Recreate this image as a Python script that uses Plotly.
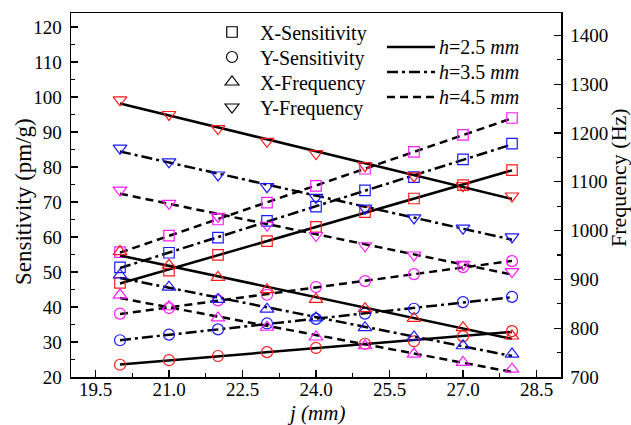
import numpy as np
import plotly.graph_objects as go

# ---------------- data ----------------
j_mm = [20, 21, 22, 23, 24, 25, 26, 27, 28]

x_sens_h25 = [46.9, 50.4, 54.9, 58.8, 62.9, 67.1, 71.0, 74.8, 79.1]
x_sens_h35 = [51.3, 55.5, 59.8, 64.6, 68.7, 73.3, 77.1, 82.2, 86.7]
x_sens_h45 = [55.7, 60.4, 65.0, 69.8, 74.6, 79.5, 84.3, 89.2, 94.0]

y_sens_h25 = [23.5, 24.8, 26.0, 27.1, 28.3, 29.5, 30.2, 31.6, 33.1]
y_sens_h35 = [30.5, 32.1, 33.6, 35.3, 36.6, 38.1, 39.5, 41.4, 42.9]
y_sens_h45 = [38.1, 39.7, 41.9, 43.5, 45.7, 47.4, 49.4, 51.4, 53.1]

x_freq_h25 = [957, 929, 904, 879, 859, 840, 820, 801, 784]
x_freq_h35 = [909, 884, 859, 839, 821, 801, 782, 764, 747]
x_freq_h45 = [868, 844, 821, 802, 782, 764, 747, 730, 716]

y_freq_h25 = [1268, 1238, 1209, 1183, 1158, 1133, 1112, 1092, 1071]
y_freq_h35 = [1169, 1141, 1114, 1090, 1068, 1046, 1026, 1005, 987]
y_freq_h45 = [1083, 1056, 1029, 1011, 990, 969, 950, 931, 916]

h_labels = ["2.5", "3.5", "4.5"]
series_names = ["X-Sensitivity", "Y-Sensitivity", "X-Frequency", "Y-Frequency"]

# ---------------- styles ----------------
FONT = "Liberation Serif"
colors = ["#ff1a1a", "#1a1aff", "#ff1aff"]
dashes = ["solid", "11px,4px,3px,4px", "8px,5px"]
symbols = ["square-open", "circle-open", "triangle-up-open", "triangle-down-open"]
msize = [10.5, 11, 12, 12]

groups = [
    ([x_sens_h25, x_sens_h35, x_sens_h45], "y"),
    ([y_sens_h25, y_sens_h35, y_sens_h45], "y"),
    ([x_freq_h25, x_freq_h35, x_freq_h45], "y2"),
    ([y_freq_h25, y_freq_h35, y_freq_h45], "y2"),
]

fig = go.Figure()
xa = np.array(j_mm, dtype=float)

# fitted lines first (beneath markers)
for gi, (sets, yax) in enumerate(groups):
    for hi, vals in enumerate(sets):
        k, b = np.polyfit(xa, np.array(vals, dtype=float), 1)
        xs = [xa.min(), xa.max()]
        fig.add_trace(go.Scatter(
            x=xs, y=[k * v + b for v in xs], mode="lines", yaxis=yax,
            line=dict(color="black", width=2.5, dash=dashes[hi]),
            showlegend=False, hoverinfo="skip"))

# markers
for gi, (sets, yax) in enumerate(groups):
    for hi, vals in enumerate(sets):
        fig.add_trace(go.Scatter(
            x=j_mm, y=vals, mode="markers", yaxis=yax,
            marker=dict(symbol=symbols[gi], size=msize[gi],
                        color=colors[hi], line=dict(width=1.2, color=colors[hi])),
            showlegend=False, hoverinfo="skip"))

# ---------------- layout helpers ----------------
L, R, T, B = 71, 70, 13, 48
W, H = 631, 425
pw, ph = W - L - R, H - T - B

def px2x(p):
    return (p - L) / pw

def px2y(p):
    return (H - B - p) / ph

# legend entries (symbols), one small legend per row
legend_rows = [32, 57, 82, 107]
legend_ids = ["legend", "legend2", "legend3", "legend4"]
legend_layout = {}
for gi, name in enumerate(series_names):
    fig.add_trace(go.Scatter(
        x=[None], y=[None], mode="markers", name=name, legend=legend_ids[gi],
        marker=dict(symbol=symbols[gi], size=msize[gi], color="black",
                    line=dict(width=1.2, color="black")),
        showlegend=True))
    legend_layout[legend_ids[gi]] = dict(
        x=px2x(204), y=px2y(legend_rows[gi]), xanchor="left", yanchor="middle",
        bgcolor="rgba(0,0,0,0)", borderwidth=0, itemwidth=46,
        font=dict(family=FONT, size=20, color="black"), itemsizing="trace",
        valign="middle")

shapes = []
annotations = []
line_rows = [47, 72, 97]
for hi, h in enumerate(h_labels):
    yy = px2y(line_rows[hi])
    shapes.append(dict(type="line", xref="paper", yref="paper",
                       x0=px2x(387), x1=px2x(435), y0=yy, y1=yy,
                       line=dict(color="black", width=2.5, dash=dashes[hi])))
    annotations.append(dict(xref="paper", yref="paper", x=px2x(437), y=yy,
                            xanchor="left", yanchor="middle", showarrow=False,
                            text=f"<i>h</i>={h} <i>mm</i>",
                            font=dict(family=FONT, size=20, color="black")))

annotations += [
    dict(xref="paper", yref="paper", x=px2x(24), y=px2y(202), textangle=-90,
         xanchor="center", yanchor="middle", showarrow=False,
         text="Sensitivity (pm/g)", font=dict(family=FONT, size=23, color="black")),
    dict(xref="paper", yref="paper", x=px2x(618), y=px2y(178), textangle=-90,
         xanchor="center", yanchor="middle", showarrow=False,
         text="Frequency (Hz)", font=dict(family=FONT, size=22, color="black")),
    dict(xref="paper", yref="paper", x=0.5, y=px2y(413),
         xanchor="center", yanchor="middle", showarrow=False,
         text="<i>j (mm)</i>", font=dict(family=FONT, size=21, color="black")),
]

tickfont = dict(family=FONT, size=19, color="black")

fig.update_layout(
    width=W, height=H,
    margin=dict(l=L, r=R, t=T, b=B, pad=0),
    paper_bgcolor="white", plot_bgcolor="white",
    font=dict(family=FONT, color="black"),
    shapes=shapes, annotations=annotations,
    xaxis=dict(range=[19, 29], tick0=19.5, dtick=1.5, tickformat=".1f",
               ticks="inside", ticklen=7, tickwidth=1.3, tickcolor="black",
               minor=dict(dtick=0.75, tick0=19.5, ticks="inside", ticklen=4,
                          tickwidth=1.2, tickcolor="black", showgrid=False),
               showline=True, linecolor="black", linewidth=1.5, mirror=True,
               showgrid=False, zeroline=False, tickfont=tickfont,
               ticklabelstandoff=-5),
    yaxis=dict(range=[20, 124], tick0=20, dtick=10,
               ticks="inside", ticklen=7, tickwidth=1.3, tickcolor="black",
               minor=dict(dtick=5, tick0=20, ticks="inside", ticklen=4,
                          tickwidth=1.2, tickcolor="black", showgrid=False),
               showline=True, linecolor="black", linewidth=1.5,
               showgrid=False, zeroline=False, tickfont=tickfont,
               ticklabelstandoff=4),
    yaxis2=dict(range=[700, 1446], tick0=700, dtick=100, overlaying="y", side="right",
                ticks="inside", ticklen=7, tickwidth=1.3, tickcolor="black",
                minor=dict(dtick=50, tick0=700, ticks="inside", ticklen=4,
                           tickwidth=1.2, tickcolor="black", showgrid=False),
                showline=True, linecolor="black", linewidth=1.5,
                showgrid=False, zeroline=False, tickfont=tickfont,
                ticklabelstandoff=4),
    **legend_layout,
)

fig.write_html("out.html", config=dict(displayModeBar=False, staticPlot=True))
